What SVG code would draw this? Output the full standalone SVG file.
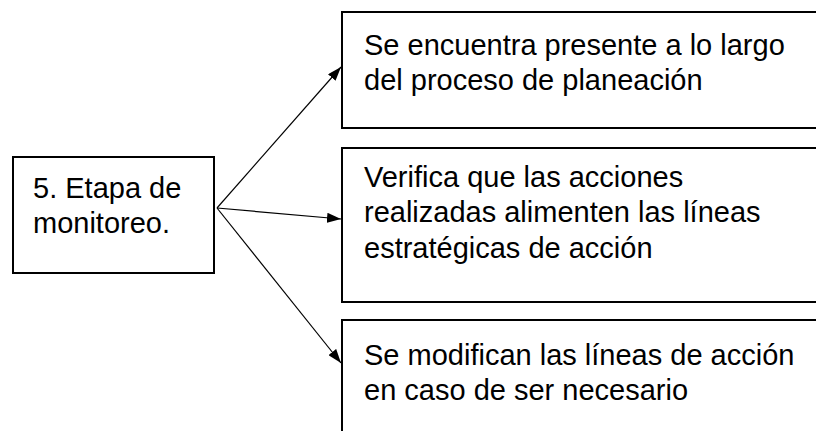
<svg xmlns="http://www.w3.org/2000/svg" width="816" height="431" viewBox="0 0 816 431">
<defs>
<style>
.box{fill:#fff;stroke:#000;stroke-width:2}
.t{font-family:"Liberation Sans",Arial,sans-serif;font-size:29px;fill:#000}
.c{stroke:#000;stroke-width:1.2;fill:none;marker-end:url(#ah)}
</style>
<marker id="ah" viewBox="0 0 14 10" refX="14" refY="5" markerWidth="14" markerHeight="10" markerUnits="userSpaceOnUse" orient="auto">
<path d="M0,0 L14,5 L0,10 z" fill="#000"/>
</marker>
</defs>
<rect width="816" height="431" fill="#fff"/>
<g id="n0">
<rect class="box" x="13" y="157" width="201" height="116"/>
<text class="t" x="33" y="198">5. Etapa de</text>
<text class="t" x="33" y="233">monitoreo.</text>
</g>
<g id="n1">
<rect class="box" x="342" y="12" width="490" height="116"/>
<text class="t" x="364" y="55">Se encuentra presente a lo largo</text>
<text class="t" x="364" y="90">del proceso de planeación</text>
</g>
<g id="n2">
<rect class="box" x="342" y="148" width="490" height="154"/>
<text class="t" x="364" y="187">Verifica que las acciones</text>
<text class="t" x="364" y="222">realizadas alimenten las líneas</text>
<text class="t" x="364" y="258">estratégicas de acción</text>
</g>
<g id="n3">
<rect class="box" x="342" y="320" width="490" height="130"/>
<text class="t" x="364" y="365">Se modifican las líneas de acción</text>
<text class="t" x="364" y="400">en caso de ser necesario</text>
</g>
<g id="connectors">
<line class="c" x1="217" y1="208" x2="341" y2="67"/>
<line class="c" x1="217" y1="208" x2="341" y2="219"/>
<line class="c" x1="217" y1="208" x2="341" y2="363"/>
</g>
</svg>
